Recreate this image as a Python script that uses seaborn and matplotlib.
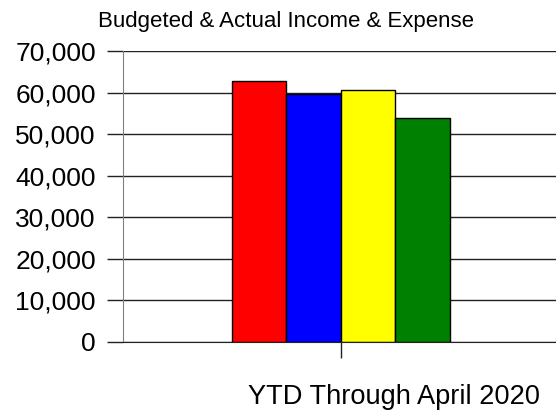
import matplotlib
matplotlib.use("Agg")
import matplotlib.pyplot as plt
import seaborn as sns
import pandas as pd

# values
period = ["YTD Through April 2020"]
series = ["Budgeted Income", "Actual Income", "Budgeted Expense", "Actual Expense"]
values = [62800, 59700, 60700, 53900]
colors = ["#ff0000", "#0000ff", "#ffff00", "#008000"]
yticks = [0, 10000, 20000, 30000, 40000, 50000, 60000, 70000]

df = pd.DataFrame({"period": period * len(series), "series": series, "value": values})

sns.set_style("white")
plt.rcParams["font.family"] = ["Liberation Sans", "DejaVu Sans"]
plt.rcParams["text.color"] = "black"

fig = plt.figure(figsize=(5.56, 4.16), dpi=100)
ax = fig.add_axes([0.2212, 0.1779, 0.7788, 0.6995])

ax.yaxis.grid(True, color="#222222", lw=1)
ax.set_axisbelow(True)
sns.barplot(data=df, x="period", y="value", hue="series", palette=colors,
            edgecolor="black", linewidth=1, saturation=1, legend=False, ax=ax)

ax.set_ylim(0, 70000)
ax.set_xlim(-0.8, 0.79)
ax.set_yticks(yticks)
ax.set_yticklabels([f"{v:,}" for v in yticks], fontsize=19)
ax.set_xticks([0])
ax.set_xticklabels([""])
ax.tick_params(axis="y", left=True, length=11.5, width=1, color="#222222",
               pad=8, labelcolor="black")
ax.tick_params(axis="x", bottom=True, length=11.5, width=1, color="#222222")

for s in ["top", "right"]:
    ax.spines[s].set_visible(False)
ax.spines["left"].set_color("#808080")
ax.spines["bottom"].set_color("#222222")

ax.set_xlabel("YTD Through April 2020", fontsize=19.6, color="black")
ax.xaxis.set_label_coords(0.625, -0.213)
ax.xaxis.label.set_va("baseline")
ax.set_ylabel("")
fig.text(0.515, 0.936, "Budgeted & Actual Income & Expense", fontsize=16,
         ha="center", va="baseline", color="black")

fig.savefig("out.png", dpi=100)
